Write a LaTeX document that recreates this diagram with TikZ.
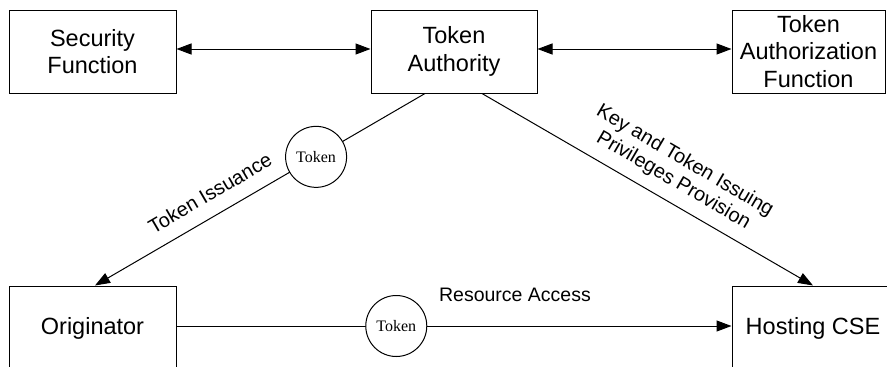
\documentclass[tikz,border=0pt]{standalone}
\usepackage{fontspec}
\setmainfont{Liberation Sans}
\newfontfamily\tokfont{Liberation Serif}
\usetikzlibrary{arrows.meta,calc}
\begin{document}
\begin{tikzpicture}[x=1pt,y=-1pt,
  box/.style={draw,line width=1pt,inner sep=0pt,align=center,font=\fontsize{23.5}{27.5}\selectfont},
  tokcirc/.style={draw,circle,fill=white,line width=1pt,minimum size=61pt,inner sep=0pt,font=\tokfont\fontsize{16}{18}\selectfont},
  lbl/.style={inner sep=0pt,align=center,font=\fontsize{20}{23}\selectfont},
  conn/.style={line width=1pt},
  tip/.style={-{Triangle[length=15pt,width=11pt]}},
  both/.style={{Triangle[length=15pt,width=11pt]}-{Triangle[length=15pt,width=11pt]}}]
\useasboundingbox (0,0) rectangle (887,367);
\clip (0,0) rectangle (887,367);
\fill[white] (0,0) rectangle (887,367);
\node[box,minimum width=167pt,minimum height=83pt] (sf) at (92.5,51.5) {Security\\Function};
\node[box,minimum width=166pt,minimum height=83pt] (ta) at (454,51.5) {Token\\Authority};
\node[box,minimum width=153pt,minimum height=83pt] (taf) at (808.5,51.5) {Token\\Authorization\\Function};
\node[box,minimum width=167pt,minimum height=84pt] (orig) at (92.5,328) {Originator};
\node[box,minimum width=162pt,minimum height=84pt] (hcse) at (813,328) {Hosting CSE};
\draw[conn,both] ([yshift=2.5pt]sf.east) -- ([yshift=2.5pt]ta.west);
\draw[conn,both] ([yshift=2.5pt]ta.east) -- ([yshift=2.5pt]taf.west);
\draw[conn,tip] ([xshift=-29pt]ta.south) -- ([xshift=2.5pt]orig.north)
  node[tokcirc,pos=0.33] (tok1) {Token};
\draw[conn,tip] ([xshift=28pt]ta.south) -- (hcse.north);
\draw[conn,tip] ([yshift=2pt]orig.east) -- ([yshift=2pt]hcse.west)
  node[tokcirc,pos=0.396] (tok2) {Token};
\node[lbl,rotate=30.3] (l1) at (210,193) {Token Issuance};
\node[lbl,rotate=-30.3] (l2) at (679,171) {Key and Token Issuing\\Privileges Provision};
\node[lbl,font=\fontsize{19.5}{23}\selectfont] (l3) at (515,295) {Resource Access};
\end{tikzpicture}
\end{document}
